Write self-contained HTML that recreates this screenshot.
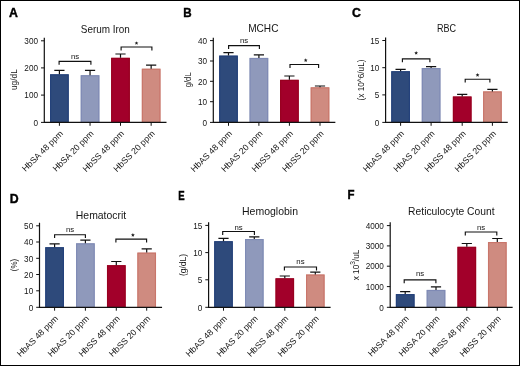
<!DOCTYPE html>
<html><head><meta charset="utf-8"><style>
html,body{margin:0;padding:0;background:#fff;}
body{width:520px;height:366px;overflow:hidden;}
svg{display:block;will-change:transform;}
text{font-family:"Liberation Sans", sans-serif;fill:#151515;}
.lt{font-size:12.3px;font-weight:bold;fill:#000;stroke:#000;stroke-width:0.4;}
.tt{font-size:10.8px;}
.tl{font-size:9.1px;}
.xl{font-size:8.7px;}
.yl{font-size:8.8px;}
.ns{font-size:7.8px;fill:#111;}
.ax{fill:none;stroke:#111;stroke-width:1.2;}
.tk{fill:none;stroke:#111;stroke-width:1;}
.eb{fill:none;stroke:#111;stroke-width:1.2;}
.br{fill:none;stroke:#111;stroke-width:1.15;}
</style></head><body>
<svg width="520" height="366" viewBox="0 0 520 366">
<rect x="0" y="0" width="520" height="366" fill="#fff"/>
<text x="9" y="16.8" class="lt">A</text>
<text x="105.35" y="32.5" class="tt" text-anchor="middle" textLength="49.1" lengthAdjust="spacingAndGlyphs">Serum Iron</text>
<rect x="50.05" y="74.3" width="18.7" height="48.1" fill="#2e4a7b"/>
<rect x="50.65" y="74.9" width="17.5" height="47.5" fill="none" stroke="#23407a" stroke-width="1.1"/>
<path d="M59.4 74.3V70.4M54.3 70.4H64.5" class="eb"/>
<rect x="80.7" y="75.2" width="18.7" height="47.2" fill="#8f99bb"/>
<rect x="81.3" y="75.8" width="17.5" height="46.6" fill="none" stroke="#7f8ab5" stroke-width="1.1"/>
<path d="M90.05 75.2V70.4M84.95 70.4H95.15" class="eb"/>
<rect x="111.15" y="57.8" width="18.7" height="64.6" fill="#a2002a"/>
<rect x="111.75" y="58.4" width="17.5" height="64" fill="none" stroke="#98001f" stroke-width="1.1"/>
<path d="M120.5 57.8V54M115.4 54H125.6" class="eb"/>
<rect x="141.8" y="68.7" width="18.7" height="53.7" fill="#cf8b80"/>
<rect x="142.4" y="69.3" width="17.5" height="53.1" fill="none" stroke="#c9766a" stroke-width="1.1"/>
<path d="M151.15 68.7V65.2M146.05 65.2H156.25" class="eb"/>
<path d="M44.3 37.8V122.4H166.5" class="ax"/>
<path d="M41 122.4H44.3" class="tk"/>
<text x="38" y="125.6" class="tl" text-anchor="end" textLength="4.55" lengthAdjust="spacingAndGlyphs">0</text>
<path d="M41 95.1H44.3" class="tk"/>
<text x="38" y="98.3" class="tl" text-anchor="end" textLength="13.66" lengthAdjust="spacingAndGlyphs">100</text>
<path d="M41 67.9H44.3" class="tk"/>
<text x="38" y="71.1" class="tl" text-anchor="end" textLength="13.66" lengthAdjust="spacingAndGlyphs">200</text>
<path d="M41 40.8H44.3" class="tk"/>
<text x="38" y="44" class="tl" text-anchor="end" textLength="13.66" lengthAdjust="spacingAndGlyphs">300</text>
<path d="M59.4 122.4V125.8" class="tk"/>
<text transform="translate(63.5 134.2) rotate(-45)" class="xl" text-anchor="end">HbSA 48 ppm</text>
<path d="M90.05 122.4V125.8" class="tk"/>
<text transform="translate(94.15 134.2) rotate(-45)" class="xl" text-anchor="end">HbSA 20 ppm</text>
<path d="M120.5 122.4V125.8" class="tk"/>
<text transform="translate(124.6 134.2) rotate(-45)" class="xl" text-anchor="end">HbSS 48 ppm</text>
<path d="M151.15 122.4V125.8" class="tk"/>
<text transform="translate(155.25 134.2) rotate(-45)" class="xl" text-anchor="end">HbSS 20 ppm</text>
<path d="M59.1 64.8V61.4H90.9V64.8" class="br"/>
<text x="75" y="58.6" class="ns" text-anchor="middle">ns</text>
<path d="M121.1 50.4V47H151.9V50.4" class="br"/>
<polygon points="136.50,41.20 137.03,42.47 138.40,42.58 137.36,43.48 137.68,44.82 136.50,44.10 135.32,44.82 135.64,43.48 134.60,42.58 135.97,42.47" fill="#222"/>
<text transform="translate(16.6 79.6) rotate(-90)" class="yl" text-anchor="middle" textLength="20.9" lengthAdjust="spacingAndGlyphs">ug/dL</text>
<text x="183.3" y="17" class="lt" textLength="8.4" lengthAdjust="spacingAndGlyphs">B</text>
<text x="263.3" y="32.4" class="tt" text-anchor="middle" textLength="30.3" lengthAdjust="spacingAndGlyphs">MCHC</text>
<rect x="219.15" y="55.6" width="18.7" height="66.8" fill="#2e4a7b"/>
<rect x="219.75" y="56.2" width="17.5" height="66.2" fill="none" stroke="#23407a" stroke-width="1.1"/>
<path d="M228.5 55.6V52.6M223.4 52.6H233.6" class="eb"/>
<rect x="249.55" y="57.9" width="18.7" height="64.5" fill="#8f99bb"/>
<rect x="250.15" y="58.5" width="17.5" height="63.9" fill="none" stroke="#7f8ab5" stroke-width="1.1"/>
<path d="M258.9 57.9V54.9M253.8 54.9H264" class="eb"/>
<rect x="280.05" y="79.8" width="18.7" height="42.6" fill="#a2002a"/>
<rect x="280.65" y="80.4" width="17.5" height="42" fill="none" stroke="#98001f" stroke-width="1.1"/>
<path d="M289.4 79.8V76M284.3 76H294.5" class="eb"/>
<rect x="310.65" y="87.3" width="18.7" height="35.1" fill="#cf8b80"/>
<rect x="311.25" y="87.9" width="17.5" height="34.5" fill="none" stroke="#c9766a" stroke-width="1.1"/>
<path d="M320 87.3V86M314.9 86H325.1" class="eb"/>
<path d="M213.3 37.8V122.4H335.35" class="ax"/>
<path d="M210 122.4H213.3" class="tk"/>
<text x="207" y="125.6" class="tl" text-anchor="end" textLength="4.55" lengthAdjust="spacingAndGlyphs">0</text>
<path d="M210 101.7H213.3" class="tk"/>
<text x="207" y="104.9" class="tl" text-anchor="end" textLength="9.11" lengthAdjust="spacingAndGlyphs">10</text>
<path d="M210 81.3H213.3" class="tk"/>
<text x="207" y="84.5" class="tl" text-anchor="end" textLength="9.11" lengthAdjust="spacingAndGlyphs">20</text>
<path d="M210 61H213.3" class="tk"/>
<text x="207" y="64.2" class="tl" text-anchor="end" textLength="9.11" lengthAdjust="spacingAndGlyphs">30</text>
<path d="M210 40.6H213.3" class="tk"/>
<text x="207" y="43.8" class="tl" text-anchor="end" textLength="9.11" lengthAdjust="spacingAndGlyphs">40</text>
<path d="M228.5 122.4V125.8" class="tk"/>
<text transform="translate(232.6 134.2) rotate(-45)" class="xl" text-anchor="end">HbAS 48 ppm</text>
<path d="M258.9 122.4V125.8" class="tk"/>
<text transform="translate(263 134.2) rotate(-45)" class="xl" text-anchor="end">HbAS 20 ppm</text>
<path d="M289.4 122.4V125.8" class="tk"/>
<text transform="translate(293.5 134.2) rotate(-45)" class="xl" text-anchor="end">HbSS 48 ppm</text>
<path d="M320 122.4V125.8" class="tk"/>
<text transform="translate(324.1 134.2) rotate(-45)" class="xl" text-anchor="end">HbSS 20 ppm</text>
<path d="M228.6 49V45.6H259.4V49" class="br"/>
<text x="244" y="43.3" class="ns" text-anchor="middle">ns</text>
<path d="M290 67.9V64.5H318.6V67.9" class="br"/>
<polygon points="305.70,58.30 306.23,59.57 307.60,59.68 306.56,60.58 306.88,61.92 305.70,61.20 304.52,61.92 304.84,60.58 303.80,59.68 305.17,59.57" fill="#222"/>
<text transform="translate(190.5 79.8) rotate(-90)" class="yl" text-anchor="middle" textLength="15.1" lengthAdjust="spacingAndGlyphs">g/dL</text>
<text x="351.9" y="17.2" class="lt">C</text>
<text x="446.45" y="32.4" class="tt" text-anchor="middle" textLength="19.1" lengthAdjust="spacingAndGlyphs">RBC</text>
<rect x="391.25" y="71.2" width="18.7" height="51.2" fill="#2e4a7b"/>
<rect x="391.85" y="71.8" width="17.5" height="50.6" fill="none" stroke="#23407a" stroke-width="1.1"/>
<path d="M400.6 71.2V69.3M395.5 69.3H405.7" class="eb"/>
<rect x="421.75" y="68" width="18.7" height="54.4" fill="#8f99bb"/>
<rect x="422.35" y="68.6" width="17.5" height="53.8" fill="none" stroke="#7f8ab5" stroke-width="1.1"/>
<path d="M431.1 68V66.6M426 66.6H436.2" class="eb"/>
<rect x="452.85" y="96.5" width="18.7" height="25.9" fill="#a2002a"/>
<rect x="453.45" y="97.1" width="17.5" height="25.3" fill="none" stroke="#98001f" stroke-width="1.1"/>
<path d="M462.2 96.5V94.4M457.1 94.4H467.3" class="eb"/>
<rect x="483.05" y="91.4" width="18.7" height="31" fill="#cf8b80"/>
<rect x="483.65" y="92" width="17.5" height="30.4" fill="none" stroke="#c9766a" stroke-width="1.1"/>
<path d="M492.4 91.4V89.4M487.3 89.4H497.5" class="eb"/>
<path d="M385.6 37.6V122.4H507.75" class="ax"/>
<path d="M382.3 122.4H385.6" class="tk"/>
<text x="379.3" y="125.6" class="tl" text-anchor="end" textLength="4.55" lengthAdjust="spacingAndGlyphs">0</text>
<path d="M382.3 94.9H385.6" class="tk"/>
<text x="379.3" y="98.1" class="tl" text-anchor="end" textLength="4.55" lengthAdjust="spacingAndGlyphs">5</text>
<path d="M382.3 67.7H385.6" class="tk"/>
<text x="379.3" y="70.9" class="tl" text-anchor="end" textLength="9.11" lengthAdjust="spacingAndGlyphs">10</text>
<path d="M382.3 40.5H385.6" class="tk"/>
<text x="379.3" y="43.7" class="tl" text-anchor="end" textLength="9.11" lengthAdjust="spacingAndGlyphs">15</text>
<path d="M400.6 122.4V125.8" class="tk"/>
<text transform="translate(404.7 134.2) rotate(-45)" class="xl" text-anchor="end">HbAS 48 ppm</text>
<path d="M431.1 122.4V125.8" class="tk"/>
<text transform="translate(435.2 134.2) rotate(-45)" class="xl" text-anchor="end">HbAS 20 ppm</text>
<path d="M462.2 122.4V125.8" class="tk"/>
<text transform="translate(466.3 134.2) rotate(-45)" class="xl" text-anchor="end">HbSS 48 ppm</text>
<path d="M492.4 122.4V125.8" class="tk"/>
<text transform="translate(496.5 134.2) rotate(-45)" class="xl" text-anchor="end">HbSS 20 ppm</text>
<path d="M402.4 62.2V58.8H429.9V62.2" class="br"/>
<polygon points="416.15,51.00 416.68,52.27 418.05,52.38 417.01,53.28 417.33,54.62 416.15,53.90 414.97,54.62 415.29,53.28 414.25,52.38 415.62,52.27" fill="#222"/>
<path d="M465.2 82.6V79.2H489.9V82.6" class="br"/>
<polygon points="477.55,73.10 478.08,74.37 479.45,74.48 478.41,75.38 478.73,76.72 477.55,76.00 476.37,76.72 476.69,75.38 475.65,74.48 477.02,74.37" fill="#222"/>
<text transform="translate(363.5 80) rotate(-90)" class="yl" text-anchor="middle" textLength="41" lengthAdjust="spacingAndGlyphs">(x 10^6/uL)</text>
<text x="9.8" y="203" class="lt">D</text>
<text x="101" y="218.5" class="tt" text-anchor="middle" textLength="50.3" lengthAdjust="spacingAndGlyphs">Hematocrit</text>
<rect x="45.25" y="247.2" width="18.7" height="60.1" fill="#2e4a7b"/>
<rect x="45.85" y="247.8" width="17.5" height="59.5" fill="none" stroke="#23407a" stroke-width="1.1"/>
<path d="M54.6 247.2V243.8M49.5 243.8H59.7" class="eb"/>
<rect x="76.05" y="243.3" width="18.7" height="64" fill="#8f99bb"/>
<rect x="76.65" y="243.9" width="17.5" height="63.4" fill="none" stroke="#7f8ab5" stroke-width="1.1"/>
<path d="M85.4 243.3V240.1M80.3 240.1H90.5" class="eb"/>
<rect x="106.95" y="265.2" width="18.7" height="42.1" fill="#a2002a"/>
<rect x="107.55" y="265.8" width="17.5" height="41.5" fill="none" stroke="#98001f" stroke-width="1.1"/>
<path d="M116.3 265.2V261.5M111.2 261.5H121.4" class="eb"/>
<rect x="137.35" y="252.6" width="18.7" height="54.7" fill="#cf8b80"/>
<rect x="137.95" y="253.2" width="17.5" height="54.1" fill="none" stroke="#c9766a" stroke-width="1.1"/>
<path d="M146.7 252.6V248.8M141.6 248.8H151.8" class="eb"/>
<path d="M39.5 222.8V307.3H162.05" class="ax"/>
<path d="M36.2 307.3H39.5" class="tk"/>
<text x="33.2" y="310.5" class="tl" text-anchor="end" textLength="4.55" lengthAdjust="spacingAndGlyphs">0</text>
<path d="M36.2 290.8H39.5" class="tk"/>
<text x="33.2" y="294" class="tl" text-anchor="end" textLength="9.11" lengthAdjust="spacingAndGlyphs">10</text>
<path d="M36.2 274.5H39.5" class="tk"/>
<text x="33.2" y="277.7" class="tl" text-anchor="end" textLength="9.11" lengthAdjust="spacingAndGlyphs">20</text>
<path d="M36.2 258.3H39.5" class="tk"/>
<text x="33.2" y="261.5" class="tl" text-anchor="end" textLength="9.11" lengthAdjust="spacingAndGlyphs">30</text>
<path d="M36.2 242H39.5" class="tk"/>
<text x="33.2" y="245.2" class="tl" text-anchor="end" textLength="9.11" lengthAdjust="spacingAndGlyphs">40</text>
<path d="M36.2 225.8H39.5" class="tk"/>
<text x="33.2" y="229" class="tl" text-anchor="end" textLength="9.11" lengthAdjust="spacingAndGlyphs">50</text>
<path d="M54.6 307.3V310.7" class="tk"/>
<text transform="translate(58.7 319.1) rotate(-45)" class="xl" text-anchor="end">HbAS 48 ppm</text>
<path d="M85.4 307.3V310.7" class="tk"/>
<text transform="translate(89.5 319.1) rotate(-45)" class="xl" text-anchor="end">HbAS 20 ppm</text>
<path d="M116.3 307.3V310.7" class="tk"/>
<text transform="translate(120.4 319.1) rotate(-45)" class="xl" text-anchor="end">HbSS 48 ppm</text>
<path d="M146.7 307.3V310.7" class="tk"/>
<text transform="translate(150.8 319.1) rotate(-45)" class="xl" text-anchor="end">HbSS 20 ppm</text>
<path d="M54.6 238.1V234.7H85.4V238.1" class="br"/>
<text x="70" y="231.9" class="ns" text-anchor="middle">ns</text>
<path d="M115.9 242.5V239.1H146.6V242.5" class="br"/>
<polygon points="132.90,233.10 133.43,234.37 134.80,234.48 133.76,235.38 134.08,236.72 132.90,236.00 131.72,236.72 132.04,235.38 131.00,234.48 132.37,234.37" fill="#222"/>
<text transform="translate(17 265) rotate(-90)" class="yl" text-anchor="middle" textLength="12.3" lengthAdjust="spacingAndGlyphs">(%)</text>
<text x="178.3" y="199.8" class="lt" textLength="6.4" lengthAdjust="spacingAndGlyphs">E</text>
<text x="270" y="214.7" class="tt" text-anchor="middle" textLength="56" lengthAdjust="spacingAndGlyphs">Hemoglobin</text>
<rect x="214.2" y="241.2" width="18.6" height="66.1" fill="#2e4a7b"/>
<rect x="214.8" y="241.8" width="17.4" height="65.5" fill="none" stroke="#23407a" stroke-width="1.1"/>
<path d="M223.5 241.2V238.4M218.4 238.4H228.6" class="eb"/>
<rect x="245" y="239" width="18.6" height="68.3" fill="#8f99bb"/>
<rect x="245.6" y="239.6" width="17.4" height="67.7" fill="none" stroke="#7f8ab5" stroke-width="1.1"/>
<path d="M254.3 239V236.8M249.2 236.8H259.4" class="eb"/>
<rect x="275.5" y="278.3" width="18.6" height="29" fill="#a2002a"/>
<rect x="276.1" y="278.9" width="17.4" height="28.4" fill="none" stroke="#98001f" stroke-width="1.1"/>
<path d="M284.8 278.3V276M279.7 276H289.9" class="eb"/>
<rect x="306" y="274.5" width="18.6" height="32.8" fill="#cf8b80"/>
<rect x="306.6" y="275.1" width="17.4" height="32.2" fill="none" stroke="#c9766a" stroke-width="1.1"/>
<path d="M315.3 274.5V272.1M310.2 272.1H320.4" class="eb"/>
<path d="M208.6 222.2V307.3H330.6" class="ax"/>
<path d="M205.3 307.3H208.6" class="tk"/>
<text x="202.3" y="310.5" class="tl" text-anchor="end" textLength="4.55" lengthAdjust="spacingAndGlyphs">0</text>
<path d="M205.3 279.8H208.6" class="tk"/>
<text x="202.3" y="283" class="tl" text-anchor="end" textLength="4.55" lengthAdjust="spacingAndGlyphs">5</text>
<path d="M205.3 252.6H208.6" class="tk"/>
<text x="202.3" y="255.8" class="tl" text-anchor="end" textLength="9.11" lengthAdjust="spacingAndGlyphs">10</text>
<path d="M205.3 225.4H208.6" class="tk"/>
<text x="202.3" y="228.6" class="tl" text-anchor="end" textLength="9.11" lengthAdjust="spacingAndGlyphs">15</text>
<path d="M223.5 307.3V310.7" class="tk"/>
<text transform="translate(227.6 319.1) rotate(-45)" class="xl" text-anchor="end">HbAS 48 ppm</text>
<path d="M254.3 307.3V310.7" class="tk"/>
<text transform="translate(258.4 319.1) rotate(-45)" class="xl" text-anchor="end">HbAS 20 ppm</text>
<path d="M284.8 307.3V310.7" class="tk"/>
<text transform="translate(288.9 319.1) rotate(-45)" class="xl" text-anchor="end">HbSS 48 ppm</text>
<path d="M315.3 307.3V310.7" class="tk"/>
<text transform="translate(319.4 319.1) rotate(-45)" class="xl" text-anchor="end">HbSS 20 ppm</text>
<path d="M222.7 234.9V231.5H254.4V234.9" class="br"/>
<text x="238.55" y="229.7" class="ns" text-anchor="middle">ns</text>
<path d="M284.4 270.4V267H316.5V270.4" class="br"/>
<text x="300.45" y="263.9" class="ns" text-anchor="middle">ns</text>
<text transform="translate(185.5 265) rotate(-90)" class="yl" text-anchor="middle" textLength="22.1" lengthAdjust="spacingAndGlyphs">(g/dL)</text>
<text x="347.6" y="199.4" class="lt" textLength="7" lengthAdjust="spacingAndGlyphs">F</text>
<text x="451.35" y="214.7" class="tt" text-anchor="middle" textLength="86.5" lengthAdjust="spacingAndGlyphs">Reticulocyte Count</text>
<rect x="395.85" y="294.1" width="18.7" height="13.2" fill="#2e4a7b"/>
<rect x="396.45" y="294.7" width="17.5" height="12.6" fill="none" stroke="#23407a" stroke-width="1.1"/>
<path d="M405.2 294.1V291.7M400.1 291.7H410.3" class="eb"/>
<rect x="426.65" y="289.9" width="18.7" height="17.4" fill="#8f99bb"/>
<rect x="427.25" y="290.5" width="17.5" height="16.8" fill="none" stroke="#7f8ab5" stroke-width="1.1"/>
<path d="M436 289.9V286.9M430.9 286.9H441.1" class="eb"/>
<rect x="457.45" y="246.8" width="18.7" height="60.5" fill="#a2002a"/>
<rect x="458.05" y="247.4" width="17.5" height="59.9" fill="none" stroke="#98001f" stroke-width="1.1"/>
<path d="M466.8 246.8V243.5M461.7 243.5H471.9" class="eb"/>
<rect x="487.95" y="242" width="18.7" height="65.3" fill="#cf8b80"/>
<rect x="488.55" y="242.6" width="17.5" height="64.7" fill="none" stroke="#c9766a" stroke-width="1.1"/>
<path d="M497.3 242V238.5M492.2 238.5H502.4" class="eb"/>
<path d="M390.2 222.2V307.3H512.65" class="ax"/>
<path d="M386.9 307.3H390.2" class="tk"/>
<text x="383.9" y="310.5" class="tl" text-anchor="end" textLength="4.55" lengthAdjust="spacingAndGlyphs">0</text>
<path d="M386.9 286.6H390.2" class="tk"/>
<text x="383.9" y="289.8" class="tl" text-anchor="end" textLength="18.22" lengthAdjust="spacingAndGlyphs">1000</text>
<path d="M386.9 266.2H390.2" class="tk"/>
<text x="383.9" y="269.4" class="tl" text-anchor="end" textLength="18.22" lengthAdjust="spacingAndGlyphs">2000</text>
<path d="M386.9 245.9H390.2" class="tk"/>
<text x="383.9" y="249.1" class="tl" text-anchor="end" textLength="18.22" lengthAdjust="spacingAndGlyphs">3000</text>
<path d="M386.9 225.6H390.2" class="tk"/>
<text x="383.9" y="228.8" class="tl" text-anchor="end" textLength="18.22" lengthAdjust="spacingAndGlyphs">4000</text>
<path d="M405.2 307.3V310.7" class="tk"/>
<text transform="translate(409.3 319.1) rotate(-45)" class="xl" text-anchor="end">HbSA 48 ppm</text>
<path d="M436 307.3V310.7" class="tk"/>
<text transform="translate(440.1 319.1) rotate(-45)" class="xl" text-anchor="end">HbSA 20 ppm</text>
<path d="M466.8 307.3V310.7" class="tk"/>
<text transform="translate(470.9 319.1) rotate(-45)" class="xl" text-anchor="end">HbSS 48 ppm</text>
<path d="M497.3 307.3V310.7" class="tk"/>
<text transform="translate(501.4 319.1) rotate(-45)" class="xl" text-anchor="end">HbSS 20 ppm</text>
<path d="M404.2 283.2V279.8H435.9V283.2" class="br"/>
<text x="420.05" y="275.5" class="ns" text-anchor="middle">ns</text>
<path d="M465.3 235.4V232H496.8V235.4" class="br"/>
<text x="481.05" y="229.9" class="ns" text-anchor="middle">ns</text>
<text transform="translate(358.9 265) rotate(-90)" class="yl" text-anchor="middle" style="font-size:8.2px">x 10<tspan dy="-3.6" font-size="6.6">3</tspan><tspan dy="3.6">/uL</tspan></text>
<rect x="0.5" y="0.5" width="519" height="365" fill="none" stroke="#000" stroke-width="1"/>
</svg>
</body></html>
